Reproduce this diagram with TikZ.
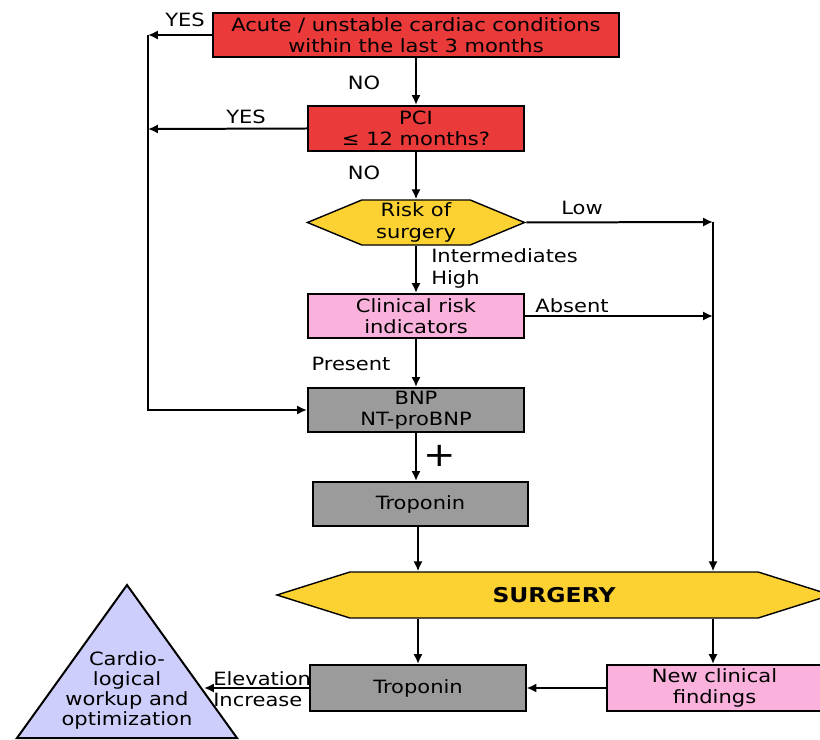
\documentclass[tikz,border=0pt]{standalone}
\usepackage{fontspec}
\setmainfont{DejaVu Sans}[FakeStretch=1.15]
\usetikzlibrary{shapes,arrows,arrows.meta,positioning}

\definecolor{cardred}{RGB}{234,58,58}
\definecolor{riskpink}{RGB}{250,178,220}
\definecolor{markergray}{RGB}{155,155,155}
\definecolor{decyellow}{RGB}{252,210,50}
\definecolor{workupblue}{RGB}{206,206,252}

\newcommand\boxfont{\fontsize{13}{15}\selectfont}
\newcommand\trifont{\fontsize{13}{14.2}\selectfont}
\newcommand\bigfont{\fontsize{14.5}{16}\selectfont}

\tikzset{
  flowbox/.style={draw, line width=1.42pt, align=center, inner sep=0pt, font=\boxfont,
    minimum width=5.4cm, minimum height=1.1cm},
  redbox/.style={flowbox, fill=cardred},
  pinkbox/.style={flowbox, fill=riskpink},
  graybox/.style={flowbox, fill=markergray},
  hexbox/.style={signal, signal to=east and west, draw, line width=1pt, fill=decyellow,
    align=center, inner sep=0pt, font=\boxfont},
  lbl/.style={font=\boxfont, inner sep=0pt},
  flow/.style={line width=1.42pt, -{Latex[length=7pt,width=6.5pt]}},
}

\begin{document}
\begin{tikzpicture}[x=0.025cm, y=-0.025cm]
\useasboundingbox (0,0) rectangle (820,740);

% boxes
\node[redbox, minimum width=10.125cm] (acute) at (416,35) {Acute / unstable cardiac conditions\\within the last 3 months};
\node[redbox, minimum height=1.125cm] (pci) at (416,128.5) {PCI\\≤ 12 months?};
\node[hexbox, minimum width=5.425cm, minimum height=1.125cm, signal pointer angle=45] (risk) at (416,222.5) {Risk of\\surgery};
\node[pinkbox] (clin) at (416,316) {Clinical risk\\indicators};
\node[graybox] (bnp) at (416,410) {BNP\\NT-proBNP};
\node[graybox, minimum width=5.375cm] (trop1) at (420.5,504) {Troponin};
\node[hexbox, minimum width=13.85cm, minimum height=1.15cm, signal pointer angle=35, font=\bigfont\bfseries] (surgery) at (554,595) {SURGERY};
\node[graybox, minimum width=5.375cm, minimum height=1.15cm] (trop2) at (418,688) {Troponin};
\node[pinkbox, minimum width=5.375cm, minimum height=1.15cm] (newcf) at (714.5,688) {New clinical\\findings};

% triangle
\filldraw[fill=workupblue, line width=1.42pt] (127,585) -- (237,738) -- (17,738) -- cycle;
\node[lbl, align=center, font=\trifont] (workup) at (127,690) {Cardio-\\logical\\workup and\\optimization};

\coordinate (yes1) at (148,35);
\coordinate (yes2) at (148,129);
\coordinate (yes3) at (148,410);
\coordinate (low) at (713,222);
\coordinate (absent) at (713,316);
\coordinate (tri) at (204,688);

% connectors
\draw[flow] (acute.south) -- (acute.south |- pci.north);
\draw[flow] (acute.west) -- (yes1);
\draw[flow] (pci.west) -- (yes2);
\draw[flow] (yes1) -- (yes3) -- (bnp.west);
\draw[flow] (pci.south) -- (pci.south |- risk.north);
\draw[flow] (risk.east) -- (low);
\draw[flow] (risk.south) -- (risk.south |- clin.north);
\draw[flow] (clin.east) -- (absent);
\draw[flow] (low) -- (low |- surgery.north);
\draw[flow] (clin.south) -- (clin.south |- bnp.north);
\draw[flow] (bnp.south) -- (bnp.south |- trop1.north);
\draw[flow] (trop2.north |- trop1.south) -- (trop2.north |- surgery.north);
\draw[flow] (surgery.south -| trop2.north) -- (trop2.north);
\draw[flow] (low |- surgery.south) -- (low |- newcf.north);
\draw[flow] (newcf.west) -- (trop2.east);
\draw[flow] (trop2.west) -- (tri);

% labels
\node[lbl] (yestop) at (185,20) {YES};
\node[lbl] (notop) at (364,83) {NO};
\node[lbl] (yespci) at (246,117) {YES};
\node[lbl] (nopci) at (364,173) {NO};
\node[lbl] (lowlbl) at (582,208) {Low};
\node[lbl, align=left, anchor=west] (highlbl) at (431,268.5) {Intermediates\\High};
\node[lbl] (absentlbl) at (572,306) {Absent};
\node[lbl] (presentlbl) at (351,364) {Present};
\node[lbl, font=\fontsize{24}{24}\selectfont] (plus) at (440,456) {+};
\node[lbl, anchor=west] (elevlbl) at (213,679) {Elevation};
\node[lbl, anchor=west] (incrlbl) at (213,700) {Increase};

\end{tikzpicture}
\end{document}
